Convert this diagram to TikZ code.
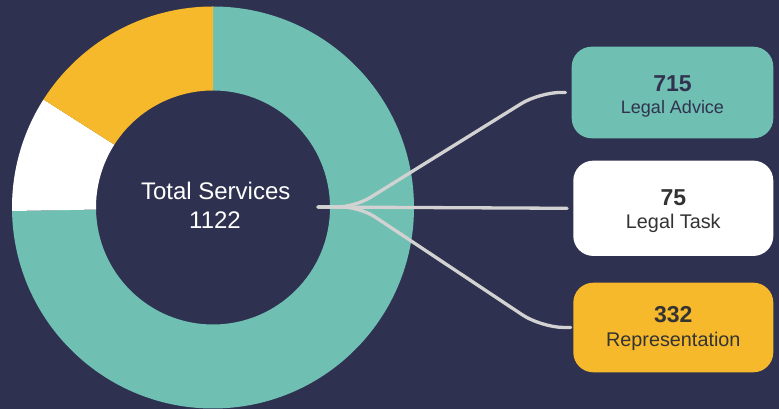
\documentclass[tikz,border=0pt]{standalone}
\usepackage{fontspec}
\setmainfont{Liberation Sans}
\definecolor{bgnavy}{HTML}{2F3150}
\definecolor{tealc}{HTML}{6FBFB2}
\definecolor{yellowc}{HTML}{F6B92B}
\definecolor{linec}{HTML}{D2D2D2}
\definecolor{darktxt}{HTML}{30324F}
\definecolor{graytxt}{HTML}{333333}
\tikzset{
  conn/.style={draw=linec, line width=3.3pt, line cap=round, rounded corners=18pt},
  card/.style={rounded corners=20pt, inner sep=0pt, minimum width=200pt},
  numtxt/.style={anchor=base, font=\fontsize{23}{23}\selectfont\bfseries},
  labtxt/.style={anchor=base, font=\fontsize{19.8}{19.8}\selectfont},
  centertxt/.style={anchor=base, text=white, font=\fontsize{24}{24}\selectfont}
}
\begin{document}
\begin{tikzpicture}[x=1pt,y=1pt]
\useasboundingbox (0,0) rectangle (779,409);
\fill[bgnavy] (0,0) rectangle (779,409);
% donut
\begin{scope}[shift={(213,201.5)}]
  \fill[tealc] (181:201) arc[start angle=181,end angle=450,radius=201] -- (450:117) arc[start angle=450,end angle=181,radius=117] -- cycle;
  \fill[white] (147.5:201) arc[start angle=147.5,end angle=181,radius=201] -- (181:117) arc[start angle=181,end angle=147.5,radius=117] -- cycle;
  \fill[yellowc] (90:201) arc[start angle=90,end angle=147.5,radius=201] -- (147.5:117) arc[start angle=147.5,end angle=90,radius=117] -- cycle;
\end{scope}
\node[centertxt] (tot1) at (215.7,209.7) {Total Services};
\node[centertxt] (tot2) at (215,180.7) {1122};
% cards
\node[card, fill=tealc, minimum width=201.6pt, minimum height=91.6pt] (b1) at (672.5,316.5) {};
\node[card, fill=white, minimum height=95.3pt] (b2) at (673.3,200.7) {};
\node[card, fill=yellowc, minimum height=89.6pt] (b3) at (673.3,81.5) {};
% connectors
\coordinate (hub) at (318,202);
\coordinate (u1) at (355,202);
\coordinate (u2) at (540,317);
\coordinate (d1) at (360,202);
\coordinate (d2) at (541,81.8);
\draw[conn] (hub) -- (u1) [rounded corners=22pt] -- (u2) -- ([xshift=-6pt]b1.west);
\draw[conn] (hub) -- ([xshift=-6pt]b2.west);
\draw[conn] (hub) -- (d1) [rounded corners=22pt] -- (d2) -- ([xshift=-2.5pt]b3.west);
% card texts
\node[numtxt, text=darktxt] (n1) at ([yshift=0.8pt]b1.center) {715};
\node[labtxt, text=darktxt, font=\fontsize{18}{18}\selectfont] (l1) at ([yshift=-20.8pt]b1.center) {Legal Advice};
\node[numtxt, text=graytxt] (n2) at ([yshift=2.6pt]b2.center) {75};
\node[labtxt, text=graytxt] (l2) at ([yshift=-20.7pt]b2.center) {Legal Task};
\node[numtxt, text=graytxt] (n3) at ([yshift=4.8pt]b3.center) {332};
\node[labtxt, text=graytxt] (l3) at ([yshift=-19.2pt]b3.center) {Representation};
\end{tikzpicture}
\end{document}
